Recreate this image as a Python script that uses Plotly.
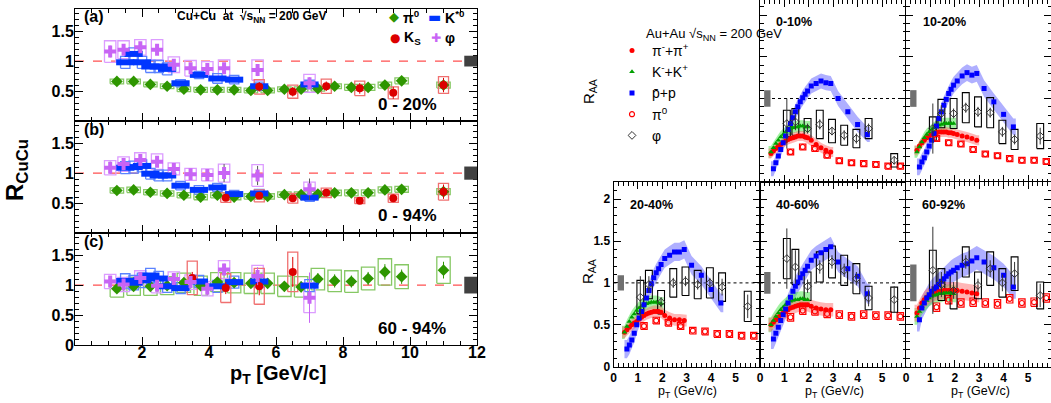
import plotly.graph_objects as go

W, H = 1051, 403
FONT = "Liberation Sans"

# ======================= LEFT FIGURE : Cu+Cu, R_CuCu =======================
pt_pi0_cu = [1.25, 1.75, 2.25, 2.75, 3.25, 3.75, 4.25, 4.75, 5.25, 5.75,
             6.25, 6.75, 7.25, 7.75, 8.25, 8.75, 9.25, 9.75, 11.0]
pi0_a = [0.66, 0.66, 0.61, 0.58, 0.53, 0.52, 0.52, 0.52, 0.51, 0.51,
         0.53, 0.53, 0.54, 0.58, 0.56, 0.56, 0.60, 0.67, 0.60]
pi0_b = [0.71, 0.72, 0.68, 0.66, 0.63, 0.60, 0.63, 0.60, 0.61, 0.61,
         0.64, 0.64, 0.65, 0.67, 0.67, 0.67, 0.72, 0.73, 0.69]
pi0_c = [0.94, 0.98, 0.98, 0.99, 1.04, 0.99, 1.05, 1.04, 1.03, 1.03,
         0.98, 0.97, 1.10, 1.07, 1.06, 1.11, 1.22, 1.14, 1.25]
pi0_stat_a = [0.02, 0.02, 0.02, 0.02, 0.02, 0.02, 0.02, 0.02, 0.02, 0.02,
              0.03, 0.03, 0.03, 0.04, 0.04, 0.04, 0.05, 0.06, 0.07]
pi0_stat_b = [0.02, 0.02, 0.02, 0.02, 0.02, 0.02, 0.02, 0.02, 0.02, 0.02,
              0.03, 0.03, 0.03, 0.04, 0.04, 0.04, 0.05, 0.06, 0.07]
pi0_stat_c = [0.03, 0.03, 0.03, 0.03, 0.04, 0.04, 0.05, 0.06, 0.06, 0.07,
              0.08, 0.09, 0.10, 0.11, 0.10, 0.11, 0.13, 0.12, 0.14]
pi0_sys_a = [0.04, 0.04, 0.04, 0.04, 0.04, 0.04, 0.04, 0.04, 0.04, 0.04,
             0.04, 0.04, 0.04, 0.04, 0.05, 0.05, 0.05, 0.05, 0.05]
pi0_sys_b = [0.045, 0.045, 0.045, 0.045, 0.045, 0.045, 0.045, 0.045, 0.045, 0.045,
             0.045, 0.045, 0.045, 0.045, 0.05, 0.05, 0.05, 0.05, 0.05]
pi0_sys_c = [0.14, 0.15, 0.15, 0.15, 0.16, 0.16, 0.16, 0.17, 0.17, 0.17,
             0.17, 0.17, 0.18, 0.18, 0.18, 0.19, 0.22, 0.20, 0.22]

pt_kst = [1.5, 1.75, 2.0, 2.25, 2.5, 2.75, 3.15, 3.7, 4.25, 4.75, 5.5, 7.0]
kst_a = [0.98, 1.12, 0.98, 0.91, 0.91, 0.87, 0.63, 0.77, 0.71, 0.69, 0.58, 0.61]
kst_b = [1.09, 1.10, 1.12, 0.99, 0.96, 0.96, 0.79, 0.72, 0.76, 0.65, 0.66, 0.59]
kst_c = [1.07, 1.04, 1.08, 1.16, 1.11, 0.98, 0.95, 1.06, 0.98, 1.05, 1.06, 0.99]
kst_sys_a = [0.10, 0.10, 0.10, 0.10, 0.10, 0.10, 0.06, 0.06, 0.08, 0.07, 0.07, 0.07]
kst_sys_b = [0.10, 0.10, 0.10, 0.09, 0.09, 0.09, 0.07, 0.07, 0.07, 0.06, 0.07, 0.06]
kst_sys_c = [0.12, 0.12, 0.12, 0.12, 0.12, 0.10, 0.09, 0.10, 0.10, 0.10, 0.10, 0.10]

pt_phi_cu = [1.05, 1.45, 1.95, 2.45, 2.95, 3.45, 3.95, 4.45, 5.45, 7.0]
phi_a = [1.16, 1.19, 1.23, 1.19, 0.94, 0.88, 0.87, 0.88, 0.85, 0.63]
phi_b = [1.09, 1.15, 1.22, 1.19, 1.07, 0.98, 0.97, 1.00, 0.96, 0.73]
phi_c = [1.06, 1.01, 1.12, 0.99, 1.10, 1.05, 0.94, 1.26, 1.15, 0.79]
phi_stat_a = [0.10, 0.05, 0.05, 0.05, 0.04, 0.04, 0.05, 0.07, 0.10, 0.10]
phi_stat_b = [0.10, 0.05, 0.05, 0.05, 0.04, 0.05, 0.06, 0.15, 0.16, 0.18]
phi_stat_c = [0.05, 0.05, 0.05, 0.05, 0.05, 0.06, 0.08, 0.10, 0.15, 0.42]
phi_sys_a = [0.18, 0.15, 0.13, 0.17, 0.13, 0.13, 0.12, 0.14, 0.17, 0.15]
phi_sys_b = [0.12, 0.12, 0.12, 0.13, 0.10, 0.10, 0.10, 0.15, 0.18, 0.12]
phi_sys_c = [0.12, 0.12, 0.12, 0.12, 0.12, 0.12, 0.12, 0.15, 0.18, 0.25]

pt_ks_a = [5.5, 6.5, 7.5, 8.5, 9.5, 11.0]
ks_a = [0.57, 0.49, 0.58, 0.545, 0.47, 0.60]
ks_stat_a = [0.08, 0.08, 0.08, 0.09, 0.10, 0.12]
ks_sys_a = [0.12, 0.11, 0.12, 0.12, 0.10, 0.14]
pt_ks_b = [4.5, 5.5, 6.5, 7.5, 8.5, 9.5, 11.0]
ks_b = [0.59, 0.62, 0.58, 0.67, 0.54, 0.58, 0.69]
ks_stat_b = [0.05, 0.05, 0.05, 0.06, 0.05, 0.06, 0.12]
ks_sys_b = [0.08, 0.10, 0.08, 0.08, 0.05, 0.07, 0.14]
pt_ks_c = [3.5, 4.5, 5.5, 6.5]
ks_c = [1.12, 0.95, 0.98, 1.22]
ks_stat_c = [0.10, 0.10, 0.15, 0.25]
ks_sys_c = [0.28, 0.24, 0.30, 0.33]

cu_centrality = ["0 - 20%", "0 - 94%", "60 - 94%"]
cu_panel_tags = ["(a)", "(b)", "(c)"]
cu_norm_unc = [0.09, 0.11, 0.14]
cu_xticks = [2, 4, 6, 8, 10, 12]
cu_yticks_top = [0.5, 1, 1.5]
cu_yticks_bottom = [0, 0.5, 1, 1.5]

# ======================= RIGHT FIGURE : Au+Au, R_AA =======================
pt_pich = [0.45, 0.55, 0.65, 0.75, 0.85, 0.95, 1.05, 1.15, 1.25, 1.35, 1.45,
           1.55, 1.65, 1.75, 1.85, 1.95, 2.1, 2.3, 2.5, 2.7, 2.9]
pt_kch = [0.45, 0.55, 0.65, 0.75, 0.85, 0.95, 1.05, 1.15, 1.25, 1.35, 1.45,
          1.55, 1.65, 1.75, 1.85, 1.95]
pt_prot = [0.55, 0.65, 0.75, 0.85, 0.95, 1.05, 1.15, 1.25, 1.35, 1.45, 1.55,
           1.65, 1.75, 1.85, 1.95, 2.1, 2.3, 2.5, 2.7, 2.9, 3.2, 3.6, 4.0, 4.4]
pt_pi0_au = [1.25, 1.75, 2.25, 2.75, 3.25, 3.75, 4.25, 4.75, 5.25, 5.75]
pt_phi_au = [1.1, 1.45, 1.95, 2.45, 2.95, 3.45, 3.95, 4.45, 5.5]

au_centrality = ["0-10%", "10-20%", "20-40%", "40-60%", "60-92%"]

pich_0010 = [0.34, 0.37, 0.40, 0.43, 0.45, 0.47, 0.49, 0.51, 0.52, 0.53, 0.54,
             0.55, 0.55, 0.55, 0.54, 0.53, 0.50, 0.45, 0.41, 0.38, 0.36]
pich_1020 = [0.38, 0.43, 0.47, 0.50, 0.53, 0.55, 0.57, 0.58, 0.59, 0.60, 0.60,
             0.60, 0.60, 0.59, 0.59, 0.58, 0.57, 0.55, 0.54, 0.52, 0.50]
pich_2040 = [0.41, 0.44, 0.47, 0.50, 0.52, 0.54, 0.57, 0.59, 0.61, 0.63, 0.64,
             0.65, 0.66, 0.66, 0.66, 0.65, 0.61, 0.58, 0.56, 0.56, 0.55]
pich_4060 = [0.50, 0.53, 0.56, 0.59, 0.62, 0.64, 0.66, 0.68, 0.70, 0.71, 0.72,
             0.73, 0.74, 0.74, 0.74, 0.74, 0.72, 0.70, 0.69, 0.68, 0.68]
pich_6092 = [0.64, 0.70, 0.76, 0.80, 0.83, 0.85, 0.87, 0.88, 0.89, 0.90, 0.90,
             0.91, 0.91, 0.91, 0.91, 0.91, 0.91, 0.90, 0.89, 0.88, 0.87]

kch_0010 = [0.36, 0.41, 0.46, 0.50, 0.54, 0.57, 0.60, 0.62, 0.64, 0.65, 0.66,
            0.66, 0.67, 0.67, 0.66, 0.66]
kch_1020 = [0.36, 0.42, 0.48, 0.53, 0.57, 0.60, 0.63, 0.65, 0.67, 0.68, 0.69,
            0.70, 0.70, 0.70, 0.70, 0.70]
kch_2040 = [0.41, 0.48, 0.54, 0.59, 0.63, 0.67, 0.70, 0.72, 0.74, 0.75, 0.76,
            0.77, 0.77, 0.77, 0.76, 0.75]
kch_4060 = [0.50, 0.55, 0.60, 0.64, 0.68, 0.71, 0.74, 0.76, 0.78, 0.79, 0.80,
            0.80, 0.81, 0.81, 0.80, 0.80]
kch_6092 = [0.60, 0.66, 0.72, 0.76, 0.79, 0.82, 0.84, 0.85, 0.86, 0.87, 0.87,
            0.88, 0.88, 0.88, 0.88, 0.87]

prot_0010 = [0.16, 0.23, 0.31, 0.39, 0.47, 0.55, 0.63, 0.70, 0.77, 0.84, 0.90,
             0.96, 1.01, 1.05, 1.09, 1.15, 1.18, 1.21, 1.19, 1.18, 1.00, 0.84, 0.69, 0.57]
prot_1020 = [0.18, 0.24, 0.29, 0.36, 0.43, 0.50, 0.58, 0.67, 0.76, 0.84, 0.92,
             0.99, 1.06, 1.11, 1.16, 1.21, 1.27, 1.31, 1.28, 1.30, 1.12, 0.96, 0.81, 0.66]
prot_2040 = [0.21, 0.26, 0.32, 0.40, 0.50, 0.58, 0.66, 0.74, 0.82, 0.91, 0.99,
             1.06, 1.12, 1.17, 1.22, 1.29, 1.33, 1.37, 1.37, 1.40, 1.21, 1.09, 0.92, 0.76]
prot_4060 = [0.33, 0.40, 0.47, 0.55, 0.62, 0.69, 0.76, 0.83, 0.90, 0.96, 1.01,
             1.06, 1.11, 1.15, 1.20, 1.27, 1.32, 1.36, 1.40, 1.43, 1.25, 1.17, 1.08, 0.87]
prot_6092 = [0.56, 0.70, 0.76, 0.82, 0.86, 0.90, 0.93, 0.95, 0.98, 1.02, 1.05,
             1.08, 1.11, 1.13, 1.15, 1.18, 1.21, 1.23, 1.26, 1.30, 1.25, 1.18, 1.09, 0.95]

pi0au_0010 = [0.36, 0.42, 0.40, 0.32, 0.255, 0.23, 0.22, 0.21, 0.19, 0.19]
pi0au_1020 = [0.52, 0.47, 0.455, 0.39, 0.335, 0.315, 0.28, 0.26, 0.26, 0.245]
pi0au_2040 = [0.485, 0.55, 0.525, 0.485, 0.43, 0.42, 0.39, 0.39, 0.37, 0.37]
pi0au_4060 = [0.59, 0.67, 0.66, 0.63, 0.62, 0.60, 0.62, 0.61, 0.61, 0.60]
pi0au_6092 = [0.71, 0.80, 0.76, 0.77, 0.76, 0.75, 0.81, 0.76, 0.77, 0.82]

phi_0010 = [0.70, 0.72, 0.64, 0.69, 0.61, 0.56, 0.52, 0.64, 0.26]
phi_1020 = [0.64, 0.82, 0.82, 0.89, 0.84, 0.83, 0.60, 0.51, 0.55]
phi_2040 = [0.83, 0.98, 0.77, 1.00, 1.02, 0.98, 1.00, 0.95, 0.72]
phi_4060 = [1.29, 1.19, 0.96, 1.19, 1.25, 1.15, 1.05, 0.82, 0.80]
phi_6092 = [1.15, 0.98, 0.91, 1.25, 0.97, 1.17, 1.00, 1.11, 0.85]
phi_stat_0010 = [0.30, 0.10, 0.06, 0.06, 0.05, 0.06, 0.06, 0.06, 0.05]
phi_stat_1020 = [0.30, 0.10, 0.06, 0.06, 0.06, 0.06, 0.06, 0.06, 0.10]
phi_stat_2040 = [0.25, 0.10, 0.06, 0.06, 0.06, 0.06, 0.06, 0.10, 0.14]
phi_stat_4060 = [0.36, 0.20, 0.08, 0.08, 0.08, 0.08, 0.08, 0.10, 0.16]
phi_stat_6092 = [0.52, 0.15, 0.10, 0.08, 0.08, 0.10, 0.10, 0.14, 0.14]
phi_sys_0010 = [0.16, 0.16, 0.12, 0.17, 0.14, 0.12, 0.11, 0.12, 0.08]
phi_sys_1020 = [0.14, 0.17, 0.18, 0.18, 0.18, 0.18, 0.14, 0.12, 0.15]
phi_sys_2040 = [0.20, 0.17, 0.14, 0.17, 0.17, 0.17, 0.18, 0.17, 0.18]
phi_sys_4060 = [0.24, 0.21, 0.17, 0.18, 0.19, 0.18, 0.18, 0.14, 0.15]
phi_sys_6092 = [0.24, 0.19, 0.22, 0.18, 0.16, 0.20, 0.17, 0.20, 0.16]

band_pich = [0.06, 0.06, 0.07, 0.08, 0.10]
band_kch = [0.07, 0.07, 0.08, 0.09, 0.10]
band_prot = [0.09, 0.10, 0.11, 0.12, 0.14]
pi0au_sys = [0.035, 0.035, 0.04, 0.045, 0.05]
au_norm_unc = [0.10, 0.10, 0.09, 0.13, 0.22]
au_xticks = [0, 1, 2, 3, 4, 5]
au_yticks = [0, 0.5, 1, 1.5, 2]


# ----------------------------------------------------------------------------
def fx(px):
    return px / W


def fy(py):
    return 1 - py / H


def box_path(xs, ys, hw, hh):
    bx, by = [], []
    for x, y, h in zip(xs, ys, hh):
        bx += [x - hw, x + hw, x + hw, x - hw, x - hw, None]
        by += [y - h, y - h, y + h, y + h, y - h, None]
    return bx, by


def band_poly(xs, ys, s, hw):
    px = [xs[0] - hw] + list(xs) + [xs[-1] + hw, xs[-1] + hw] + list(xs[::-1]) + [xs[0] - hw]
    py = ([ys[0] + s] + [y + s for y in ys] + [ys[-1] + s, ys[-1] - s]
          + [y - s for y in ys[::-1]] + [ys[0] - s])
    return px, py


fig = go.Figure()

# ---------------------------- left panels ----------------------------------
GREEN, GREEN_BOX = "#2e9600", "#86c864"
BLUE, BLUE_BOX = "#0036ff", "#5a82ff"
RED, RED_BOX = "#dc0000", "#f07070"
VIOL, VIOL_BOX = "#c864f5", "#dc9cff"

left_sets = [
    ("x", "y", pi0_a, pi0_stat_a, pi0_sys_a, kst_a, kst_sys_a, phi_a, phi_stat_a, phi_sys_a,
     pt_ks_a, ks_a, ks_stat_a, ks_sys_a, VIOL),
    ("x2", "y2", pi0_b, pi0_stat_b, pi0_sys_b, kst_b, kst_sys_b, phi_b, phi_stat_b, phi_sys_b,
     pt_ks_b, ks_b, ks_stat_b, ks_sys_b, "#555555"),
    ("x3", "y3", pi0_c, pi0_stat_c, pi0_sys_c, kst_c, kst_sys_c, phi_c, phi_stat_c, phi_sys_c,
     pt_ks_c, ks_c, ks_stat_c, ks_sys_c, VIOL),
]

for i, (xa, ya, p0, p0s, p0y, ks, ksy, ph, phs, phy, ptk, kS, kSs, kSy, phcol) in enumerate(left_sets):
    for xs, ys, hw, hh, col in [(pt_pi0_cu, p0, 0.2, p0y, GREEN_BOX),
                                (pt_phi_cu, ph, 0.17, phy, VIOL_BOX),
                                (pt_kst, ks, 0.14, ksy, BLUE_BOX),
                                (ptk, kS, 0.15, kSy, RED_BOX)]:
        bx, by = box_path(xs, ys, hw, hh)
        fig.add_trace(go.Scatter(x=bx, y=by, mode="lines", line=dict(color=col, width=1.3),
                                 xaxis=xa, yaxis=ya, showlegend=False, hoverinfo="skip"))
    fig.add_trace(go.Scatter(x=pt_pi0_cu, y=p0, mode="markers", name="π<sup>0</sup>",
                             marker=dict(symbol="diamond", size=9, color=GREEN),
                             error_y=dict(type="data", array=p0s, color=GREEN, thickness=1, width=0),
                             xaxis=xa, yaxis=ya, showlegend=False))
    fig.add_trace(go.Scatter(x=pt_kst, y=ks, mode="markers", name="K<sup>*0</sup>",
                             marker=dict(symbol="line-ew", size=13,
                                         line=dict(color=BLUE, width=6)),
                             xaxis=xa, yaxis=ya, showlegend=False))
    fig.add_trace(go.Scatter(x=ptk, y=kS, mode="markers", name="K<sub>S</sub>",
                             marker=dict(symbol="circle", size=8, color=RED),
                             error_y=dict(type="data", array=kSs, color=RED, thickness=1, width=0),
                             xaxis=xa, yaxis=ya, showlegend=False))
    fig.add_trace(go.Scatter(x=pt_phi_cu, y=ph, mode="markers", name="φ",
                             marker=dict(symbol="cross", size=10, color=VIOL),
                             error_y=dict(type="data", array=phs, color=phcol, thickness=1, width=0),
                             xaxis=xa, yaxis=ya, showlegend=False))

# ---------------------------- right panels ---------------------------------
A_RED, A_GREEN, A_BLUE = "#ff0000", "#00a000", "#0000ff"
au_sets = [
    ("x5", "y5", pich_0010, kch_0010, prot_0010, pi0au_0010, phi_0010, phi_stat_0010, phi_sys_0010),
    ("x6", "y6", pich_1020, kch_1020, prot_1020, pi0au_1020, phi_1020, phi_stat_1020, phi_sys_1020),
    ("x7", "y7", pich_2040, kch_2040, prot_2040, pi0au_2040, phi_2040, phi_stat_2040, phi_sys_2040),
    ("x8", "y8", pich_4060, kch_4060, prot_4060, pi0au_4060, phi_4060, phi_stat_4060, phi_sys_4060),
    ("x9", "y9", pich_6092, kch_6092, prot_6092, pi0au_6092, phi_6092, phi_stat_6092, phi_sys_6092),
]
for i, (xa, ya, pic, kc, pr, p0, ph, phs, phy) in enumerate(au_sets):
    first = i == 0
    for xs, ys, s, col in [(pt_prot, pr, band_prot[i], "rgba(95,95,255,0.5)"),
                           (pt_kch, kc, band_kch[i], "rgba(70,230,70,0.5)"),
                           (pt_pich, pic, band_pich[i], "rgba(255,110,110,0.5)")]:
        bx, by = band_poly(xs, ys, s, 0.1)
        fig.add_trace(go.Scatter(x=bx, y=by, mode="lines", fill="toself", fillcolor=col,
                                 line=dict(width=0), xaxis=xa, yaxis=ya,
                                 showlegend=False, hoverinfo="skip"))
    bx, by = box_path(pt_pi0_au, p0, 0.13, [pi0au_sys[i]] * len(p0))
    fig.add_trace(go.Scatter(x=bx, y=by, mode="lines", line=dict(color=A_RED, width=1.2),
                             xaxis=xa, yaxis=ya, showlegend=False, hoverinfo="skip"))
    bx, by = box_path(pt_phi_au, ph, 0.14, phy)
    fig.add_trace(go.Scatter(x=bx, y=by, mode="lines", line=dict(color="black", width=1.1),
                             xaxis=xa, yaxis=ya, showlegend=False, hoverinfo="skip"))
    fig.add_trace(go.Scatter(x=pt_pich, y=pic, mode="markers", name="π<sup>-</sup>+π<sup>+</sup>",
                             marker=dict(symbol="circle", size=5, color=A_RED),
                             xaxis=xa, yaxis=ya, showlegend=first, legend="legend3"))
    fig.add_trace(go.Scatter(x=pt_kch, y=kc, mode="markers", name="K<sup>-</sup>+K<sup>+</sup>",
                             marker=dict(symbol="triangle-up", size=5, color=A_GREEN),
                             xaxis=xa, yaxis=ya, showlegend=first, legend="legend3"))
    fig.add_trace(go.Scatter(x=pt_prot, y=pr, mode="markers", name="p̄+p",
                             marker=dict(symbol="square", size=5, color=A_BLUE),
                             xaxis=xa, yaxis=ya, showlegend=first, legend="legend3"))
    fig.add_trace(go.Scatter(x=pt_pi0_au, y=p0, mode="markers", name="π<sup>0</sup>",
                             marker=dict(symbol="circle-open", size=5, color=A_RED,
                                         line=dict(width=1.2)),
                             xaxis=xa, yaxis=ya, showlegend=first, legend="legend3"))
    fig.add_trace(go.Scatter(x=pt_phi_au, y=ph, mode="markers", name="φ",
                             marker=dict(symbol="diamond-open", size=6, color="#333333",
                                         line=dict(width=1)),
                             error_y=dict(type="data", array=phs, color="#333333",
                                          thickness=1, width=0),
                             xaxis=xa, yaxis=ya, showlegend=first, legend="legend3"))


# ------------------------------- axes ---------------------------------------
def axis_base(**kw):
    d = dict(showline=True, linecolor="black", linewidth=1, mirror="allticks",
             ticks="inside", tickcolor="black", tickwidth=1, showgrid=False,
             zeroline=False, automargin=False)
    d.update(kw)
    return d


lay = {}
LX0, LX1 = 75, 477
left_rows = [(9, 121), (121, 233), (233, 345)]
for k, (t, b) in enumerate(left_rows):
    sx = "" if k == 0 else str(k + 1)
    bottom = k == 2
    yt = cu_yticks_bottom if bottom else cu_yticks_top
    lay["xaxis" + sx] = axis_base(
        range=[0, 12], domain=[fx(LX0), fx(LX1)], anchor="y" + sx, ticklen=8,
        tickvals=cu_xticks, showticklabels=bottom, ticklabelstandoff=-7,
        minor=dict(ticks="inside", ticklen=4, dtick=0.5, tick0=0, tickcolor="black"),
        tickfont=dict(family=FONT, size=16, color="black", weight="bold"))
    lay["yaxis" + sx] = axis_base(
        range=[0, 1.87], domain=[fy(b), fy(t)], anchor="x" + sx, ticklen=8,
        tickvals=yt, ticktext=[("%g" % v) for v in yt], ticklabelstandoff=-3,
        minor=dict(ticks="inside", ticklen=4, dtick=0.1, tick0=0, tickcolor="black"),
        tickfont=dict(family=FONT, size=16, color="black", weight="bold"))

XU = 24.4
cols = [(613.5, 613.5 + 6 * XU), (760.0, 760.0 + 6 * XU), (906.0, 1051.0)]
rows = [(0.0, 182.0, 83.5), (182.0, 366.7, 83.8)]
au_axes = {4: (0, 0), 5: (1, 0), 6: (2, 0), 7: (0, 1), 8: (1, 1), 9: (2, 1)}
for n, (c, r) in au_axes.items():
    cx0, cx1 = cols[c]
    rt, rb, yu = rows[r]
    lay["xaxis%d" % n] = axis_base(
        range=[0, (cx1 - cx0) / XU], domain=[fx(cx0), fx(cx1)], anchor="y%d" % n,
        ticklen=7, tickvals=au_xticks, showticklabels=(r == 1),
        minor=dict(ticks="inside", ticklen=3.5, dtick=0.2, tick0=0, tickcolor="black"),
        tickfont=dict(family=FONT, size=12, color="black", weight="bold"))
    lay["yaxis%d" % n] = axis_base(
        range=[0, (rb - rt) / yu], domain=[fy(rb), fy(rt)], anchor="x%d" % n,
        ticklen=7, tickvals=au_yticks, showticklabels=(c == 0),
        minor=dict(ticks="inside", ticklen=3.5, dtick=0.1, tick0=0, tickcolor="black"),
        tickfont=dict(family=FONT, size=12, color="black", weight="bold"))

fig.update_layout(**lay)

# ------------------------------ shapes --------------------------------------
shapes = []
for k in range(3):
    sx = "" if k == 0 else str(k + 1)
    shapes.append(dict(type="line", xref="x%s domain" % sx, yref="y" + sx, x0=0, x1=1,
                       y0=1, y1=1, line=dict(color="#ff5050", width=1.3, dash="dash"),
                       layer="below"))
    shapes.append(dict(type="rect", xref="x" + sx, yref="y" + sx, x0=11.62, x1=12.0,
                       y0=1 - cu_norm_unc[k], y1=1 + cu_norm_unc[k],
                       fillcolor="#404040", line=dict(width=0)))
for i, n in enumerate([5, 6, 7, 8, 9]):
    shapes.append(dict(type="line", xref="x%d domain" % n, yref="y%d" % n, x0=0, x1=1,
                       y0=1, y1=1, line=dict(color="black", width=1, dash="dot"),
                       layer="below"))
    shapes.append(dict(type="rect", xref="x%d" % n, yref="y%d" % n, x0=0.17, x1=0.43,
                       y0=1 - au_norm_unc[i], y1=1 + au_norm_unc[i],
                       fillcolor="#707070", line=dict(width=0)))

# ---------------------------- annotations ----------------------------------
ann = []


def text(px, py, s, size, xanchor="left", bold=False, angle=0, family=FONT, color="black"):
    ann.append(dict(x=fx(px), y=fy(py), xref="paper", yref="paper", text=s,
                    showarrow=False, xanchor=xanchor, yanchor="middle", textangle=angle,
                    font=dict(family=family, size=size, color=color,
                              weight="bold" if bold else "normal")))


for k, (t, b) in enumerate(left_rows):
    text(82, t + 8, cu_panel_tags[k], 16, bold=True)
    text(376, b - 17, cu_centrality[k], 17, bold=True)
text(175, 17, "Cu+Cu  at  √s<sub>NN</sub> = 200 GeV", 12, bold=True)
# legend of the Cu+Cu figure (symbol glyph + label)
text(394, 17, "◆", 13, xanchor="center", family="DejaVu Sans", color=GREEN)
text(401, 17, "π<sup>0</sup>", 14, bold=True)
text(434, 17, "▬", 14, xanchor="center", family="DejaVu Sans", color=BLUE)
text(443, 17, "K<sup>*0</sup>", 14, bold=True)
text(395, 38, "●", 12, xanchor="center", family="DejaVu Sans", color=RED)
text(402, 38, "K<sub>S</sub>", 14, bold=True)
text(436, 38, "✚", 12, xanchor="center", family="DejaVu Sans", color=VIOL)
text(443, 38, "φ", 14, bold=True)

text(16, 170, "R<sub>CuCu</sub>", 24, xanchor="center", bold=True, angle=-90)
text(278, 374, "p<sub>T</sub> [GeV/c]", 20, xanchor="center", bold=True)

text(644, 34, "Au+Au √s<sub>NN</sub> = 200 GeV", 13)
au_label_pos = [(774, 22), (921, 22), (628, 205), (774, 205), (920, 205)]
for (px, py), s in zip(au_label_pos, au_centrality):
    text(px, py, s, 12.5, bold=True)
text(590, 92, "R<sub>AA</sub>", 15, xanchor="center", angle=-90)
text(588, 272, "R<sub>AA</sub>", 15, xanchor="center", angle=-90)
for cx in [687, 834, 980]:
    text(cx, 392, "p<sub>T</sub> (GeV/c)", 12.5, xanchor="center")

fig.update_layout(
    width=W, height=H, margin=dict(l=0, r=0, t=0, b=0, autoexpand=False),
    paper_bgcolor="white", plot_bgcolor="white",
    shapes=shapes, annotations=ann,
    legend3=dict(x=fx(612), y=fy(35), xanchor="left", yanchor="top", orientation="v",
                 font=dict(family=FONT, size=14, color="black"),
                 bgcolor="rgba(0,0,0,0)", itemwidth=30),
)

fig.write_html("out.html", config={"displayModeBar": False},
               post_script="document.body.style.margin='0';document.body.style.overflow='hidden';")
